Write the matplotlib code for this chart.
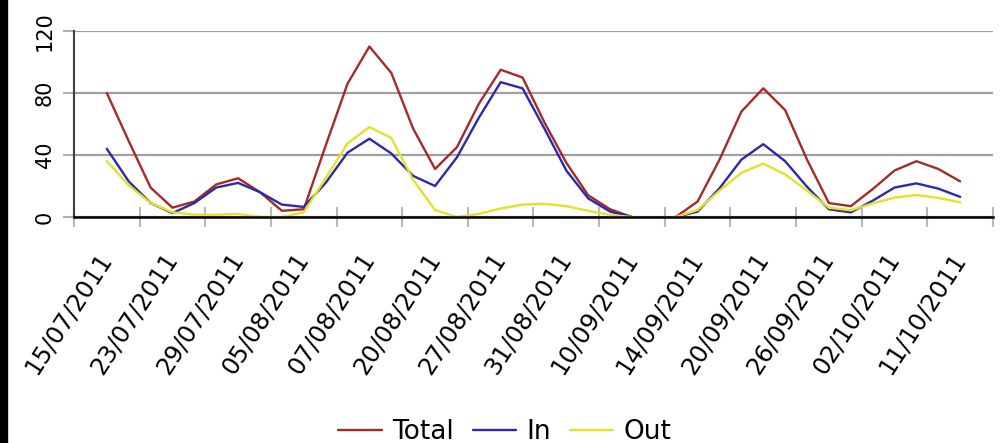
import numpy as np
import matplotlib
matplotlib.use("Agg")
import matplotlib.pyplot as plt
from matplotlib.patches import Rectangle

nan = np.nan
# 42 categories, labels shown every 3rd category
tick_labels = ["15/07/2011", "23/07/2011", "29/07/2011", "05/08/2011", "07/08/2011",
               "20/08/2011", "27/08/2011", "31/08/2011", "10/09/2011", "14/09/2011",
               "20/09/2011", "26/09/2011", "02/10/2011", "11/10/2011"]

total = [nan, 80, 49, 19, 6, 10, 21, 25, 16, 4, 5, 46, 86, 110, 93, 57, 31, 45, 73, 95,
         90, 61, 35, 14, 5, 0, nan, 0, 10, 37, 68, 83, 69, 37, 9, 7, 18, 30, 36, 31, 23, nan]
inn = [nan, 44, 23, 9, 2.5, 9, 19, 22, 16, 8, 6.5, 22, 41.5, 50.5, 41, 26.5, 20, 38.5,
       64, 87, 83, 57, 30, 12, 3.5, 0, nan, 0, 3.5, 18.5, 37, 47, 36, 19.5, 5, 3, 10.5,
       19, 21.7, 18.3, 13, nan]
out = [nan, 36, 20.5, 9, 3, 1.5, 1.5, 2, 0, 0, 3, 25, 47.5, 58, 51, 24, 4.5, 0, 2,
       5.5, 8, 8.5, 7, 4, 1.3, 0, nan, 0, 4.5, 17, 28.5, 34.5, 27.5, 17, 6, 4.3, 8.8,
       12.5, 14.2, 12.3, 9.5, nan]

series = [("Total", total, "#a52a2a"), ("In", inn, "#2a2aaa"), ("Out", out, "#e2e22a")]

W, H = 1003, 443
fig = plt.figure(figsize=(W / 100, H / 100), dpi=100)
fig.patches.append(Rectangle((0, 0), 7 / W, 1, transform=fig.transFigure,
                             color="black", zorder=10))

ax = fig.add_axes([74 / W, 1 - 217 / H, (993 - 74) / W, (217 - 31) / H])

n = len(total)
x = np.arange(n)
for name, vals, col in series:
    ax.plot(x, vals, color=col, lw=1.7, label=name, clip_on=False,
            solid_joinstyle="round", solid_capstyle="round", zorder=3)

ax.set_xlim(-0.5, n - 0.5)
ax.set_ylim(0, 120)

# boundaries ticks
ax.set_xticks(np.arange(-0.5, n, 3))
ax.set_xticklabels([])
ax.tick_params(axis="x", which="major", direction="inout", length=15, width=1.5,
               color="#b8b8b8")
ax.set_xticks(np.arange(1, n, 3), minor=True)
ax.set_xticklabels(tick_labels, minor=True, rotation=57, ha="right", va="center",
                   rotation_mode="anchor", fontsize=17.5)
ax.tick_params(axis="x", which="minor", length=0, pad=27)

ax.set_yticks([0, 40, 80, 120])
ax.set_yticklabels(["0", "40", "80", "120"], rotation=90, va="center", ha="right",
                   fontsize=15)
ax.tick_params(axis="y", length=8, width=1.5, color="#b0b0b0", pad=6)

ax.yaxis.grid(True, color="#a0a0a0", lw=1.6)
ax.set_axisbelow(True)
for s in ["top", "right"]:
    ax.spines[s].set_visible(False)
ax.spines["left"].set_color("#404040")
ax.spines["left"].set_linewidth(1.5)
ax.spines["bottom"].set_color("black")
ax.spines["bottom"].set_linewidth(1.8)
ax.spines["bottom"].set_zorder(4)

fig.legend(loc="lower center", bbox_to_anchor=(505 / W, -0.058), ncol=3, frameon=False,
           fontsize=19, handlelength=1.65, handletextpad=0.4, columnspacing=0.7)

fig.savefig("out.png", dpi=100)
